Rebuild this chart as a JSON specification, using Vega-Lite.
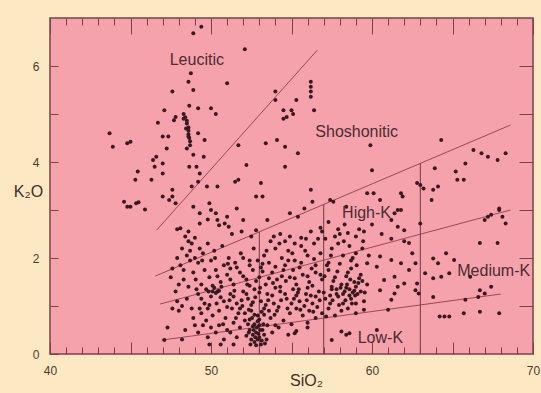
{
"$schema":"https://vega.github.io/schema/vega-lite/v6.json",
"width":483,"height":336,
"autosize":{"type":"none"},
"padding":{"left":50,"top":18,"right":8,"bottom":39},
"background":"#FDE8C4",
"config":{"font":"Liberation Sans","view":{"fill":"#F6A2AD","stroke":"#7a4248","strokeWidth":1.5}},
"datasets":{
"bnd":[{"seg":"a","s":46.62,"k":2.58},{"seg":"a","s":56.6,"k":6.33},{"seg":"b","s":46.55,"k":1.625},{"seg":"b","s":68.6,"k":4.77},{"seg":"c","s":46.83,"k":1.04},{"seg":"c","s":68.6,"k":3.0},{"seg":"d","s":46.94,"k":0.29},{"seg":"d","s":68.0,"k":1.25}],
"vert":[{"s":53,"k0":0,"k1":2.545},{"s":57,"k0":0,"k1":3.115},{"s":63,"k0":0,"k1":3.971}],
"lab":[{"t":"Leucitic","s":49.12,"k":6.12},{"t":"Shoshonitic","s":59.05,"k":4.63},{"t":"High-K","s":59.66,"k":2.93},{"t":"Medium-K","s":67.56,"k":1.72},{"t":"Low-K","s":60.52,"k":0.33}],
"pts":[
{"s":43.7,"k":4.6},{"s":43.9,"k":4.32},{"s":44.8,"k":4.39},{"s":45.0,"k":4.42},{"s":45.45,"k":3.8},{"s":45.3,"k":3.63},{"s":46.3,"k":3.63},{"s":44.6,"k":3.17},{"s":44.8,"k":3.07},{"s":45.0,"k":3.07},{"s":45.35,"k":3.14},{"s":45.5,"k":3.16},{"s":45.9,"k":3.01},{"s":46.7,"k":4.82},{"s":47.1,"k":5.08},{"s":47.0,"k":4.53},{"s":47.35,"k":4.53},{"s":47.25,"k":4.28},{"s":46.6,"k":4.11},{"s":46.4,"k":4.04},{"s":46.5,"k":3.9},{"s":47.0,"k":3.97},{"s":47.0,"k":3.76},{"s":47.0,"k":3.28},{"s":47.4,"k":3.21},{"s":47.6,"k":3.28},{"s":47.6,"k":3.42},{"s":47.8,"k":3.14},{"s":47.6,"k":5.47},{"s":47.8,"k":4.94},{"s":47.7,"k":4.87},
{"s":48.3,"k":5.0},{"s":48.4,"k":4.93},{"s":48.5,"k":4.86},{"s":48.5,"k":4.8},{"s":48.6,"k":4.72},{"s":48.6,"k":4.65},{"s":48.6,"k":4.58},{"s":48.65,"k":4.5},{"s":48.7,"k":4.43},{"s":48.7,"k":4.35},{"s":48.5,"k":4.28},{"s":48.3,"k":4.9},{"s":48.45,"k":4.7},
{"s":48.9,"k":4.15},{"s":49.1,"k":3.9},{"s":49.3,"k":3.76},{"s":49.2,"k":3.59},{"s":48.8,"k":3.49},{"s":48.65,"k":3.9},{"s":49.6,"k":4.46},{"s":48.6,"k":4.53},{"s":49.2,"k":4.6},
{"s":48.9,"k":6.68},{"s":49.4,"k":6.82},{"s":52.1,"k":6.35},{"s":51.0,"k":5.64},{"s":48.75,"k":5.85},{"s":48.6,"k":5.67},{"s":48.9,"k":5.5},{"s":48.65,"k":5.17},{"s":49.2,"k":5.12},{"s":50.0,"k":5.12},{"s":50.3,"k":5.0},
{"s":49.55,"k":4.11},{"s":49.75,"k":3.49},{"s":50.4,"k":3.49},{"s":49.9,"k":3.14},{"s":50.0,"k":3.0},{"s":48.9,"k":3.07},{"s":49.3,"k":2.93},{"s":50.3,"k":2.93},{"s":51.0,"k":2.86},{"s":50.85,"k":2.72},{"s":51.1,"k":2.65},{"s":50.4,"k":2.79},{"s":51.6,"k":3.03},{"s":51.7,"k":3.63},{"s":51.5,"k":3.59},{"s":52.2,"k":3.94},{"s":51.7,"k":4.35},{"s":53.1,"k":3.56},{"s":52.8,"k":3.28},{"s":53.2,"k":3.28},{"s":52.0,"k":2.79},{"s":52.8,"k":2.58},{"s":53.5,"k":2.79},{"s":53.4,"k":4.39},{"s":54.1,"k":4.46},{"s":54.6,"k":4.32},{"s":55.4,"k":4.18},{"s":54.6,"k":3.9},{"s":54.0,"k":5.47},{"s":54.0,"k":5.29},{"s":55.3,"k":5.29},{"s":54.5,"k":5.08},{"s":55.0,"k":5.08},{"s":55.1,"k":5.0},{"s":54.7,"k":4.94},{"s":54.5,"k":4.9},{"s":56.2,"k":5.67},{"s":56.2,"k":5.57},{"s":56.2,"k":5.47},{"s":56.2,"k":5.36},{"s":56.4,"k":5.08},{"s":59.9,"k":4.35},{"s":60.0,"k":3.83},{"s":56.2,"k":3.42},{"s":56.3,"k":3.17},{"s":55.8,"k":3.03},{"s":54.9,"k":2.93},{"s":55.4,"k":2.86},{"s":57.4,"k":3.21},{"s":57.6,"k":3.17},{"s":58.4,"k":3.07},{"s":59.7,"k":3.35},{"s":60.1,"k":3.35},{"s":60.5,"k":3.21},{"s":61.8,"k":3.35},{"s":61.9,"k":3.28},{"s":62.8,"k":3.56},{"s":63.0,"k":3.52},{"s":63.2,"k":3.45},{"s":63.8,"k":3.42},{"s":63.7,"k":3.21},{"s":64.1,"k":3.49},{"s":63.9,"k":3.87},{"s":64.3,"k":4.46},{"s":65.3,"k":3.63},{"s":65.7,"k":3.63},{"s":65.2,"k":3.8},{"s":65.8,"k":3.97},{"s":66.3,"k":4.25},{"s":66.8,"k":4.18},{"s":67.2,"k":4.11},{"s":67.8,"k":4.04},{"s":68.3,"k":4.18},
{"s":67.0,"k":2.79},{"s":67.2,"k":2.86},{"s":67.4,"k":2.9},{"s":67.9,"k":3.0},{"s":68.1,"k":2.86},{"s":68.3,"k":2.72},{"s":67.9,"k":3.03},{"s":66.7,"k":2.31},{"s":67.8,"k":2.31},{"s":64.6,"k":2.1},{"s":65.1,"k":1.96},{"s":63.8,"k":1.99},{"s":64.1,"k":1.89},{"s":63.3,"k":1.68},{"s":63.8,"k":1.58},{"s":64.3,"k":1.61},{"s":64.8,"k":1.68},{"s":66.1,"k":1.61},{"s":66.7,"k":1.33},{"s":67.0,"k":1.26},{"s":67.4,"k":1.4},{"s":66.6,"k":1.19},{"s":65.8,"k":1.13},{"s":63.8,"k":1.19},{"s":64.2,"k":0.78},{"s":64.5,"k":0.78},{"s":64.8,"k":0.78},{"s":65.7,"k":0.85},{"s":66.7,"k":0.88},{"s":67.9,"k":0.85},{"s":62.9,"k":1.26},{"s":62.8,"k":1.47},{"s":62.7,"k":1.33},{"s":62.3,"k":2.31},{"s":63.0,"k":2.72},{"s":62.0,"k":2.58},{"s":61.6,"k":2.65},{"s":61.2,"k":2.79},{"s":61.4,"k":2.93},{"s":61.6,"k":3.0},{"s":61.8,"k":3.0},
{"s":60.5,"k":2.03},{"s":61.2,"k":1.96},{"s":61.8,"k":1.89},{"s":62.3,"k":1.75},{"s":60.3,"k":1.82},{"s":59.7,"k":1.89},{"s":61.4,"k":1.61},{"s":62.7,"k":1.89},{"s":62.5,"k":2.1},{"s":60.75,"k":1.54},{"s":61.6,"k":1.4},{"s":60.5,"k":1.33},{"s":61.4,"k":1.26},{"s":62.0,"k":1.47},{"s":61.2,"k":1.13},{"s":58.1,"k":0.47},{"s":58.4,"k":0.4},{"s":58.6,"k":0.43},{"s":60.3,"k":0.5},{"s":61.0,"k":0.92},{"s":55.2,"k":0.43},{"s":57.5,"k":0.29},
{"s":47.9,"k":2.6},{"s":48.1,"k":2.62},{"s":48.6,"k":2.55},{"s":49.3,"k":2.72},{"s":49.8,"k":2.8},{"s":50.5,"k":2.68},{"s":51.3,"k":2.5},{"s":51.9,"k":2.55},{"s":52.5,"k":2.45},{"s":53.7,"k":2.35},{"s":54.3,"k":2.5},{"s":54.9,"k":2.45},{"s":55.6,"k":2.42},{"s":56.2,"k":2.55},{"s":56.8,"k":2.63},{"s":57.3,"k":2.75},{"s":57.9,"k":2.6},{"s":58.5,"k":2.52},{"s":58.3,"k":2.7},{"s":59.0,"k":2.45},{"s":59.5,"k":2.55},{"s":59.2,"k":2.6},{"s":60.0,"k":2.7},{"s":60.6,"k":2.5},{"s":61.2,"k":2.4},{"s":62.0,"k":2.35},
{"s":48.4,"k":2.45},{"s":48.6,"k":2.35},{"s":48.8,"k":2.3},{"s":49.0,"k":2.42},{"s":49.3,"k":2.2},{"s":48.7,"k":2.15},{"s":48.5,"k":2.05},{"s":49.0,"k":2.0},{"s":49.5,"k":2.1},{"s":49.8,"k":2.3},{"s":48.2,"k":2.2},{"s":47.9,"k":2.0},{"s":48.1,"k":1.85},{"s":47.6,"k":1.78},{"s":50.2,"k":2.15},{"s":50.7,"k":2.25},{"s":51.1,"k":2.0},
{"s":51.5,"k":1.9},{"s":52.0,"k":2.0},{"s":52.4,"k":1.85},{"s":52.9,"k":1.95},{"s":53.3,"k":2.05},{"s":53.6,"k":1.9},{"s":54.0,"k":2.2},{"s":54.4,"k":2.0},{"s":54.8,"k":2.15},{"s":55.2,"k":1.95},{"s":55.6,"k":2.25},{"s":56.0,"k":2.05},{"s":56.4,"k":2.3},{"s":56.8,"k":2.1},{"s":57.1,"k":2.4},{"s":57.5,"k":2.2},{"s":57.9,"k":2.3},{"s":58.2,"k":2.05},{"s":58.6,"k":2.25},{"s":59.0,"k":2.1},{"s":59.4,"k":2.2},{"s":59.8,"k":2.05},{"s":57.3,"k":1.9},{"s":56.5,"k":1.85},{"s":55.5,"k":1.8},{"s":54.6,"k":1.85},{"s":53.1,"k":1.8},{"s":58.7,"k":1.95},{"s":57.7,"k":2.45},{"s":56.9,"k":2.55},{"s":55.9,"k":2.4},{"s":54.6,"k":2.35},{"s":53.9,"k":2.45},{"s":55.2,"k":2.3},{"s":58.0,"k":2.5},
{"s":47.5,"k":1.6},{"s":48.3,"k":1.55},{"s":48.9,"k":1.7},{"s":49.4,"k":1.45},{"s":49.9,"k":1.6},{"s":50.3,"k":1.75},{"s":50.6,"k":1.5},{"s":51.0,"k":1.65},{"s":51.4,"k":1.45},{"s":51.8,"k":1.7},{"s":52.2,"k":1.55},{"s":52.6,"k":1.75},{"s":53.0,"k":1.6},{"s":53.4,"k":1.45},{"s":53.8,"k":1.7},{"s":54.1,"k":1.55},{"s":54.5,"k":1.75},{"s":54.9,"k":1.6},{"s":55.3,"k":1.45},{"s":55.7,"k":1.65},{"s":56.1,"k":1.5},{"s":56.5,"k":1.7},{"s":56.9,"k":1.55},{"s":57.3,"k":1.75},{"s":57.7,"k":1.6},{"s":58.1,"k":1.45},{"s":58.5,"k":1.7},{"s":58.9,"k":1.5},{"s":59.3,"k":1.65},{"s":59.7,"k":1.45},{"s":50.1,"k":1.42},{"s":52.4,"k":1.42},{"s":54.3,"k":1.4},{"s":56.3,"k":1.42},{"s":57.5,"k":1.4},{"s":58.7,"k":1.78},{"s":55.1,"k":1.75},{"s":53.2,"k":1.72},{"s":51.2,"k":1.78},
{"s":47.8,"k":1.3},{"s":48.5,"k":1.15},{"s":49.2,"k":1.25},{"s":49.7,"k":1.35},{"s":50.0,"k":1.2},{"s":50.4,"k":1.3},{"s":50.8,"k":1.1},{"s":51.2,"k":1.25},{"s":51.6,"k":1.05},{"s":52.0,"k":1.3},{"s":52.3,"k":1.15},{"s":52.7,"k":1.35},{"s":53.1,"k":1.1},{"s":53.5,"k":1.25},{"s":53.9,"k":1.05},{"s":54.3,"k":1.3},{"s":54.7,"k":1.15},{"s":55.1,"k":1.35},{"s":55.5,"k":1.1},{"s":55.9,"k":1.25},{"s":56.3,"k":1.05},{"s":56.7,"k":1.3},{"s":57.1,"k":1.15},{"s":57.5,"k":1.35},{"s":57.9,"k":1.2},{"s":58.3,"k":1.3},{"s":58.7,"k":1.15},{"s":59.1,"k":1.25},{"s":59.5,"k":1.1},{"s":57.8,"k":1.35},{"s":58.4,"k":1.38},{"s":58.9,"k":1.32},{"s":57.4,"k":1.22},{"s":56.5,"k":1.2},{"s":55.3,"k":1.22},{"s":50.2,"k":1.38},{"s":49.6,"k":1.05},{"s":51.9,"k":1.12},{"s":52.5,"k":1.02},{"s":54.0,"k":1.38},{"s":56.0,"k":1.38},{"s":50.3,"k":1.27},{"s":50.5,"k":1.32},{"s":50.1,"k":1.3},
{"s":47.6,"k":0.95},{"s":48.0,"k":0.9},{"s":48.9,"k":0.75},{"s":49.4,"k":0.85},{"s":49.8,"k":0.95},{"s":50.1,"k":0.8},{"s":50.5,"k":0.9},{"s":50.9,"k":0.75},{"s":51.3,"k":0.95},{"s":51.7,"k":0.85},{"s":52.1,"k":0.7},{"s":52.5,"k":0.9},{"s":52.9,"k":0.8},{"s":53.3,"k":0.95},{"s":53.7,"k":0.75},{"s":54.1,"k":0.9},{"s":54.5,"k":0.7},{"s":54.9,"k":0.85},{"s":55.3,"k":0.95},{"s":55.7,"k":0.8},{"s":56.1,"k":0.9},{"s":56.5,"k":0.75},{"s":56.9,"k":0.85},{"s":57.3,"k":0.95},{"s":57.7,"k":0.8},{"s":58.1,"k":0.9},{"s":58.5,"k":0.95},{"s":59.0,"k":0.85},{"s":59.5,"k":0.92},{"s":56.0,"k":0.65},{"s":55.0,"k":0.62},{"s":54.0,"k":0.6},{"s":51.4,"k":0.65},{"s":52.7,"k":0.62},{"s":53.5,"k":0.6},
{"s":52.4,"k":0.5},{"s":52.6,"k":0.4},{"s":52.8,"k":0.45},{"s":53.0,"k":0.35},{"s":53.2,"k":0.5},{"s":52.9,"k":0.3},{"s":52.7,"k":0.25},{"s":53.1,"k":0.2},{"s":52.5,"k":0.3},{"s":53.3,"k":0.4},{"s":52.2,"k":0.38},{"s":52.85,"k":0.55},{"s":53.0,"k":0.6},{"s":52.6,"k":0.58},{"s":53.15,"k":0.28},{"s":52.95,"k":0.42},{"s":52.75,"k":0.35},
{"s":47.3,"k":0.55},{"s":48.4,"k":0.5},{"s":49.2,"k":0.45},{"s":49.8,"k":0.35},{"s":50.3,"k":0.45},{"s":50.8,"k":0.3},{"s":51.2,"k":0.45},{"s":51.6,"k":0.35},{"s":49.9,"k":0.2},{"s":50.6,"k":0.2},{"s":51.4,"k":0.2},{"s":53.8,"k":0.45},{"s":54.2,"k":0.55},{"s":54.8,"k":0.4},{"s":55.3,"k":0.48},{"s":56.0,"k":0.55},{"s":47.1,"k":0.29},{"s":48.2,"k":0.3},{"s":47.9,"k":1.1},{"s":48.0,"k":1.45},
{"s":58.6,"k":1.35},{"s":58.8,"k":1.28},{"s":59.0,"k":1.4},{"s":58.2,"k":1.25},{"s":59.3,"k":1.3},
{"s":49.2,"k":1.9},{"s":49.6,"k":1.75},{"s":50.0,"k":1.95},{"s":50.4,"k":1.62},{"s":50.8,"k":1.85},{"s":51.2,"k":1.55},{"s":51.6,"k":1.8},{"s":52.0,"k":1.62},{"s":52.4,"k":1.95},{"s":52.8,"k":1.52},{"s":53.2,"k":1.88},{"s":53.6,"k":1.58},{"s":54.0,"k":1.82},{"s":54.4,"k":1.62},{"s":54.8,"k":1.95},{"s":55.2,"k":1.58},{"s":55.6,"k":1.9},{"s":56.0,"k":1.62},{"s":56.4,"k":1.98},{"s":56.8,"k":1.65},{"s":57.2,"k":1.85},{"s":57.6,"k":1.52},{"s":58.0,"k":1.88},{"s":58.4,"k":1.62},{"s":58.8,"k":2.0},{"s":59.2,"k":1.58},
{"s":49.4,"k":1.15},{"s":49.9,"k":1.02},{"s":50.6,"k":1.18},{"s":51.0,"k":0.98},{"s":51.4,"k":1.2},{"s":51.8,"k":0.95},{"s":52.2,"k":1.25},{"s":52.6,"k":1.08},{"s":53.0,"k":1.28},{"s":53.4,"k":1.02},{"s":53.8,"k":1.22},{"s":54.2,"k":0.98},{"s":54.6,"k":1.25},{"s":55.0,"k":1.05},{"s":55.4,"k":1.28},{"s":55.8,"k":1.0},{"s":56.2,"k":1.22},{"s":56.6,"k":0.98},{"s":57.0,"k":1.28},{"s":57.4,"k":1.05},{"s":57.8,"k":1.25},{"s":58.2,"k":1.05},{"s":58.6,"k":1.22},{"s":59.0,"k":1.05},
{"s":51.8,"k":0.55},{"s":52.1,"k":0.85},{"s":52.4,"k":0.72},{"s":52.7,"k":0.82},{"s":53.0,"k":0.72},{"s":53.3,"k":0.82},{"s":53.6,"k":0.9},{"s":52.3,"k":0.62},
{"s":49.05,"k":1.55},{"s":49.45,"k":1.95},{"s":49.85,"k":1.3},{"s":50.25,"k":2.0},{"s":50.65,"k":1.4},{"s":51.05,"k":1.88},{"s":51.45,"k":1.32},{"s":51.85,"k":2.1},{"s":52.25,"k":1.45},{"s":52.65,"k":2.2},{"s":53.05,"k":1.38},{"s":53.45,"k":2.15},{"s":53.85,"k":1.48},{"s":54.25,"k":2.3},{"s":54.65,"k":1.52},{"s":55.05,"k":2.1},{"s":55.45,"k":1.35},{"s":55.85,"k":2.15},{"s":56.25,"k":1.78},{"s":56.65,"k":2.4},{"s":57.05,"k":1.62},{"s":57.45,"k":2.05},{"s":57.85,"k":1.72},{"s":58.25,"k":2.35},{"s":58.65,"k":1.55},{"s":59.05,"k":1.85},{"s":59.45,"k":2.35},
{"s":49.3,"k":0.95},{"s":49.7,"k":0.7},{"s":50.35,"k":1.05},{"s":50.75,"k":0.62},{"s":51.15,"k":1.12},{"s":51.55,"k":0.75},{"s":51.95,"k":1.0},{"s":52.35,"k":0.92},{"s":52.75,"k":1.18},{"s":53.15,"k":0.88},{"s":53.55,"k":1.12},{"s":53.95,"k":0.82},{"s":54.35,"k":1.12},{"s":54.75,"k":0.95},{"s":55.15,"k":1.15},{"s":55.55,"k":0.92},{"s":55.95,"k":1.12},{"s":56.35,"k":0.88},{"s":56.75,"k":1.12},{"s":57.15,"k":0.78},{"s":57.55,"k":1.12},{"s":57.95,"k":1.02},{"s":58.35,"k":1.12},{"s":58.75,"k":1.05},
{"s":52.45,"k":0.2},{"s":52.65,"k":0.5},{"s":53.25,"k":0.62},{"s":53.45,"k":0.3},{"s":52.9,"k":0.68},{"s":52.55,"k":0.75},{"s":53.05,"k":0.5},{"s":52.35,"k":0.45},{"s":53.35,"k":0.22},{"s":52.8,"k":0.18},
{"s":58.45,"k":1.45},{"s":58.95,"k":1.22},{"s":59.15,"k":1.48},{"s":58.05,"k":1.38},{"s":59.55,"k":1.28},{"s":59.4,"k":1.52},
{"s":48.7,"k":1.95},{"s":48.3,"k":1.75},{"s":49.1,"k":1.35},{"s":48.6,"k":1.4},{"s":48.2,"k":1.0},{"s":48.8,"k":0.95},{"s":49.0,"k":0.6},{"s":49.5,"k":0.6},{"s":50.0,"k":0.55},{"s":50.5,"k":0.6},{"s":51.0,"k":0.5}
]},
"resolve":{"axis":{"x":"independent","y":"independent"}},
"layer":[
{"data":{"name":"bnd"},"mark":{"type":"line","color":"#9a4858","strokeWidth":1},
 "encoding":{
  "x":{"field":"s","type":"quantitative","scale":{"domain":[40,70],"nice":false,"zero":false},
   "axis":{"orient":"bottom","zindex":1,"values":[40,41,42,43,44,45,46,47,48,49,50,51,52,53,54,55,56,57,58,59,60,61,62,63,64,65,66,67,68,69,70],"domain":false,"grid":false,"tickColor":"#7a4248","tickWidth":1,"tickSize":{"condition":{"test":"datum.value % 5 === 0","value":-12},"value":-7},"labelExpr":"datum.value % 10 === 0 ? datum.label : ''","labelOverlap":false,"labelFlush":false,"labelBound":false,"labelFontSize":12,"labelColor":"#4a3a32","labelPadding":28,"labelBaseline":"middle","encode":{"labels":{"update":{"dy":{"signal":"(datum.value === 50 || datum.value === 60) ? 6 : -3"}}}},"title":"SiO₂","titleFontSize":16,"titleFontWeight":"normal","titleColor":"#3e2e2a","titleX":256,"titleY":26,"titleAlign":"center","titleBaseline":"middle"}},
  "y":{"field":"k","type":"quantitative","scale":{"domain":[0,7],"nice":false,"zero":false},
   "axis":{"orient":"left","zindex":1,"values":[0,1,2,3,4,5,6],"domain":false,"grid":false,"tickColor":"#7a4248","tickSize":-8,"labelExpr":"datum.value % 2 === 0 ? datum.label : ''","labelFontSize":12,"labelColor":"#4a3a32","labelPadding":19,"title":"K₂O","titleAngle":0,"titleX":-22,"titleY":173,"titleAlign":"center","titleBaseline":"middle","titleFontSize":16,"titleFontWeight":"normal","titleColor":"#3e2e2a"}},
  "detail":{"field":"seg"}}},
{"data":{"name":"vert"},"mark":{"type":"rule","color":"#6e3a42","strokeWidth":1},
 "encoding":{
  "x":{"field":"s","type":"quantitative","scale":{"domain":[40,70],"nice":false,"zero":false},
   "axis":{"orient":"top","zindex":1,"values":[40,41,42,43,44,45,46,47,48,49,50,51,52,53,54,55,56,57,58,59,60,61,62,63,64,65,66,67,68,69,70],"labels":false,"domain":false,"grid":false,"tickColor":"#7a4248","tickSize":{"condition":{"test":"datum.value % 5 === 0","value":-16},"value":-7},"title":null}},
  "y":{"field":"k0","type":"quantitative","scale":{"domain":[0,7],"nice":false,"zero":false},
   "axis":{"orient":"right","zindex":1,"values":[1,2,3,4,5,6],"labels":false,"domain":false,"grid":false,"tickColor":"#7a4248","tickSize":-14,"title":null}},
  "y2":{"field":"k1"}}},
{"data":{"name":"pts"},"mark":{"type":"circle","size":16,"color":"#3a1820","opacity":1},
 "encoding":{
  "x":{"field":"s","type":"quantitative","scale":{"domain":[40,70],"nice":false,"zero":false},"axis":null},
  "y":{"field":"k","type":"quantitative","scale":{"domain":[0,7],"nice":false,"zero":false},"axis":null}}},
{"data":{"name":"lab"},"mark":{"type":"text","fontSize":16,"color":"#4a2c32"},
 "encoding":{
  "x":{"field":"s","type":"quantitative","scale":{"domain":[40,70],"nice":false,"zero":false},"axis":null},
  "y":{"field":"k","type":"quantitative","scale":{"domain":[0,7],"nice":false,"zero":false},"axis":null},
  "text":{"field":"t"}}}
]
}
